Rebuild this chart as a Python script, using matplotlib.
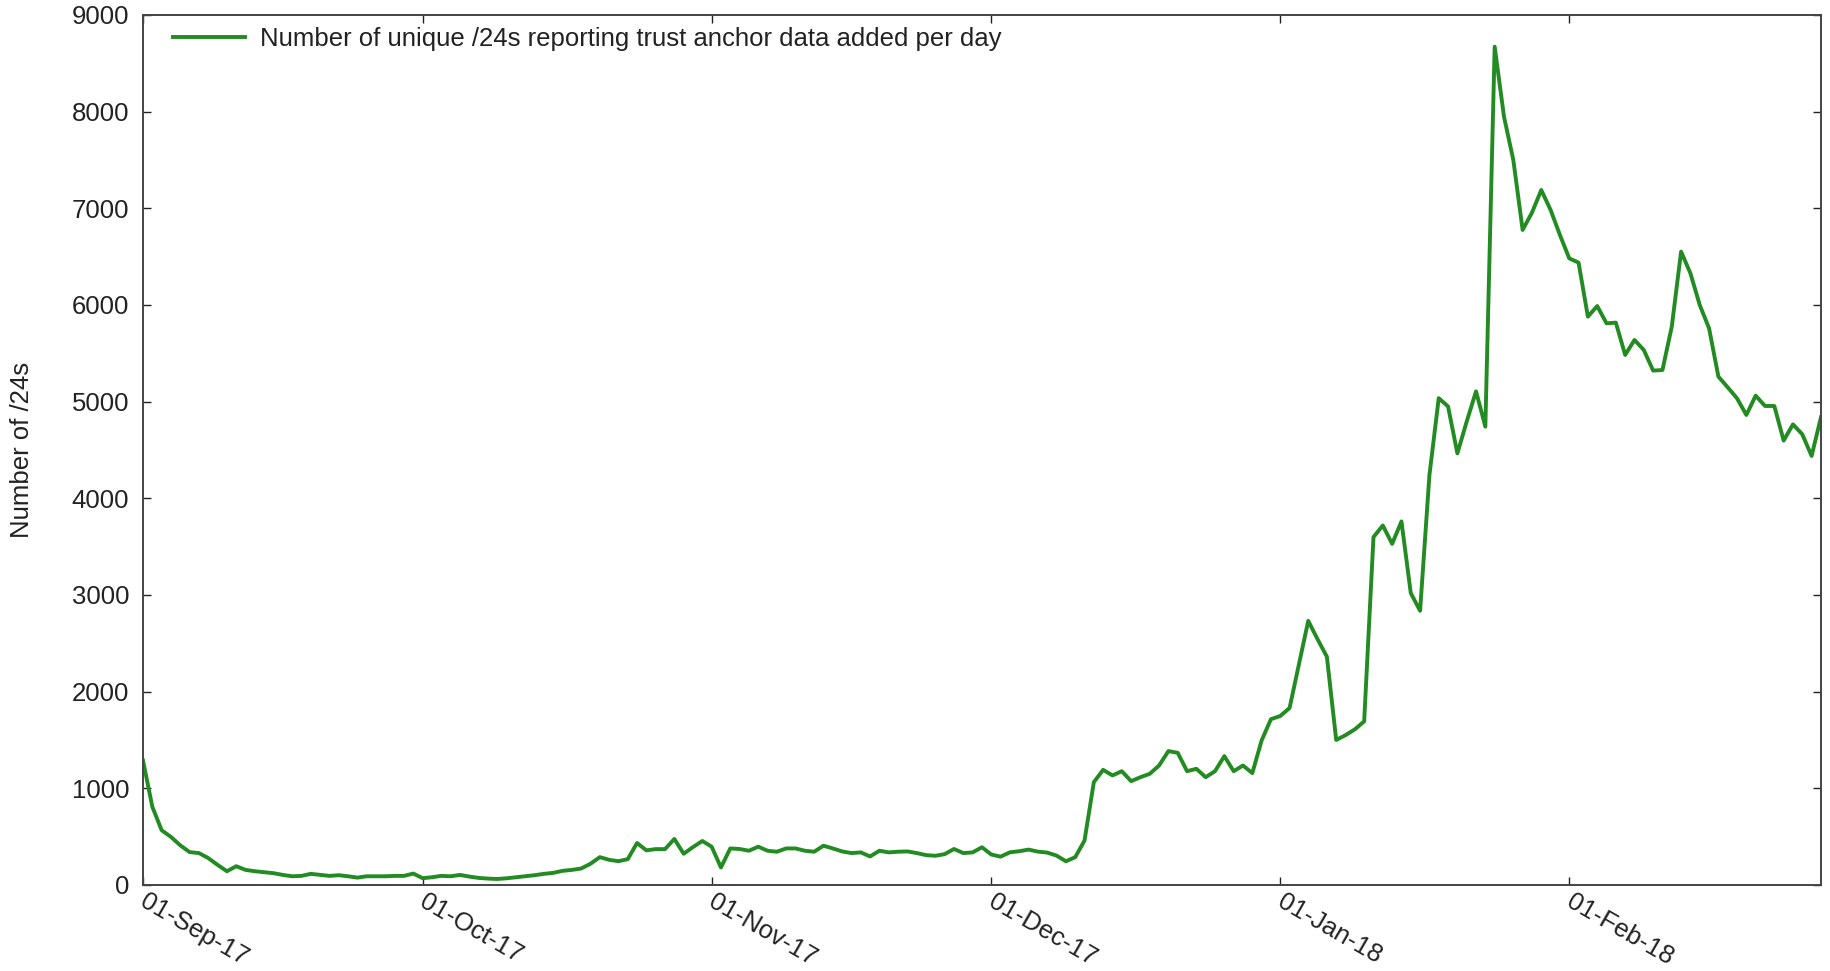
import matplotlib
matplotlib.use("Agg")
import matplotlib.pyplot as plt
import matplotlib.dates as mdates
import matplotlib.transforms as mtransforms
import numpy as np
import pandas as pd

plt.rcParams['font.family'] = ['Liberation Sans', 'DejaVu Sans']

start_date = "2017-09-01"
end_date = "2018-02-28"

sep_values = [1288, 809, 566, 497, 410, 340, 330, 278, 208, 142,
              194, 156, 142, 132, 122, 104, 90, 94, 115, 104,
              94, 101, 90, 76, 90, 90, 90, 94, 94, 118]
oct_values = [70, 80, 94, 90, 104, 87, 73, 66, 62, 69,
              80, 90, 101, 115, 125, 146, 156, 170, 219, 288,
              260, 246, 267, 434, 358, 371, 371, 476, 323, 392, 455]
nov_values = [396, 181, 378, 372, 354, 396, 354, 344, 378, 378,
              354, 344, 406, 378, 347, 330, 337, 295, 354, 337,
              344, 347, 330, 309, 302, 319, 372, 330, 337, 390]
dec_values = [315, 293, 338, 349, 366, 345, 335, 304, 245, 287,
              459, 1063, 1191, 1133, 1177, 1074, 1115, 1150, 1236, 1385,
              1367, 1177, 1202, 1115, 1177, 1333, 1177, 1236, 1157, 1495, 1715]
jan_values = [1748, 1831, 2282, 2732, 2542, 2362, 1500, 1550, 1610, 1692,
              3599, 3719, 3529, 3761, 3020, 2836, 4239, 5036, 4950, 4465,
              4794, 5106, 4741, 8672, 7948, 7500, 6776, 6955, 7189, 6983, 6724]
feb_values = [6482, 6438, 5879, 5989, 5810, 5817, 5483, 5638, 5534, 5321,
              5327, 5776, 6552, 6327, 6000, 5758, 5259, 5148, 5034, 4862,
              5062, 4955, 4955, 4597, 4765, 4662, 4438, 4838]

values = sep_values + oct_values + nov_values + dec_values + jan_values + feb_values
dates = pd.date_range(start_date, periods=len(values), freq="D")

series_label = "Number of unique /24s reporting trust anchor data added per day"
y_label = "Number of /24s"
y_ticks = list(range(0, 9001, 1000))

FS = 18.5

fig = plt.figure(figsize=(18.31, 9.71), dpi=100)
ax = fig.add_axes([0.0781, 0.0886, 0.9164, 0.8960])

ax.plot(dates, values, color="#228b22", linewidth=2.8, label=series_label)

ax.set_xlim(pd.Timestamp(start_date), pd.Timestamp(end_date))
ax.set_ylim(0, 9000)
ax.set_yticks(y_ticks)
ax.xaxis.set_major_locator(mdates.MonthLocator())
ax.xaxis.set_major_formatter(mdates.DateFormatter("%d-%b-%y"))

ax.tick_params(axis="both", direction="in", length=6, width=1.0,
               top=True, right=True, labelsize=FS, colors="#222222")
ax.tick_params(axis="x", pad=3)
ax.tick_params(axis="y", pad=10)
shift = mtransforms.ScaledTranslation(5 / 100, 0, fig.dpi_scale_trans)
for lbl in ax.get_xticklabels():
    lbl.set_rotation(-30)
    lbl.set_ha("left")
    lbl.set_va("top")
    lbl.set_rotation_mode("anchor")
    lbl.set_transform(lbl.get_transform() + shift)

for sp in ax.spines.values():
    sp.set_linewidth(1.4)
    sp.set_color("#444444")

ax.set_ylabel(y_label, fontsize=FS, color="#222222")
ax.yaxis.set_label_coords(-0.065, 0.5)

leg = ax.legend(loc="upper left", bbox_to_anchor=(0.0179, 0.986), frameon=False,
                fontsize=FS, handlelength=2.8, handletextpad=0.58,
                borderpad=0, borderaxespad=0)
for t in leg.get_texts():
    t.set_color("#222222")

fig.savefig("out.png", dpi=100)
